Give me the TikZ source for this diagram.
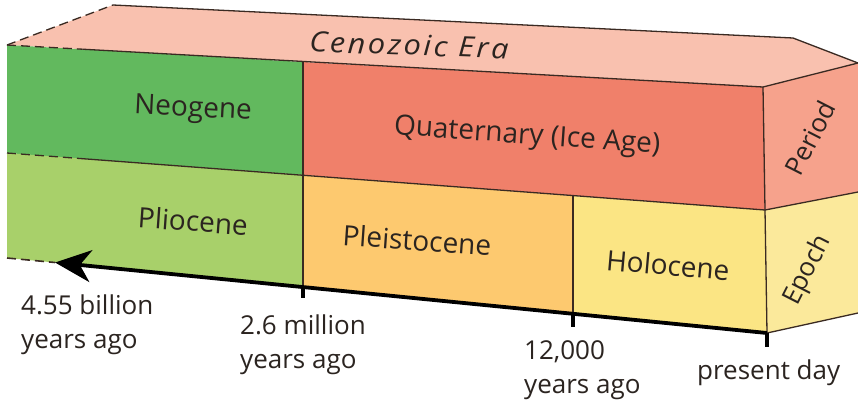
\documentclass[tikz,border=0pt]{standalone}
\usepackage{fontspec}
\setmainfont{Open Sans}
\usetikzlibrary{arrows.meta,calc}
\definecolor{topc}{HTML}{F9C1AF}
\definecolor{neoc}{HTML}{62B95E}
\definecolor{quac}{HTML}{F0806A}
\definecolor{plic}{HTML}{A8D06A}
\definecolor{pleic}{HTML}{FDC96F}
\definecolor{holc}{HTML}{FBE584}
\definecolor{perc}{HTML}{F6A28C}
\definecolor{epoc}{HTML}{FBE99B}
\definecolor{edge}{HTML}{3A2A22}
\definecolor{txt}{HTML}{2B2420}
\tikzset{
  outline/.style={draw=edge, line width=1.3pt, line join=round},
  dashedge/.style={draw=edge, line width=1.3pt, dash pattern=on 9pt off 5pt},
  axis/.style={draw=black, line width=3.8pt},
  tickmark/.style={draw=black, line width=3.8pt},
  main/.style={font=\fontsize{28}{34}\selectfont, text=txt, inner sep=0},
  side/.style={font=\fontsize{26}{30}\selectfont, text=txt, inner sep=0, rotate=63},
  lab/.style={font=\fontsize{26}{34}\selectfont, text=txt, align=left, inner sep=0, anchor=north west}
}
\begin{document}
\begin{tikzpicture}[x=1pt,y=-1pt]
\useasboundingbox (0,0) rectangle (858,408);
\fill[white] (0,0) rectangle (858,408);
% corners
\coordinate (A) at (7,45);
\coordinate (B) at (113,5);
\coordinate (C) at (793,38);
\coordinate (D) at (858,63);
\coordinate (E) at (763,87);
\coordinate (T1) at (303,62);
\coordinate (M0) at (7,153);
\coordinate (M1) at (303,175);
\coordinate (M2) at (573,196);
\coordinate (M3) at (765,210);
\coordinate (MR) at (858,192);
\coordinate (L0) at (7,258);
\coordinate (L1) at (303,286);
\coordinate (L2) at (573,313);
\coordinate (L3) at (767,333);
\coordinate (LR) at (858,313);
\coordinate (tip) at (55,262.5);
\coordinate (K1) at (303,298);
\coordinate (K2) at (573,327);
\coordinate (K3) at (767,347);
% fills
\fill[topc] (A) -- (B) -- (C) -- (D) -- (E) -- cycle;
\fill[neoc] (A) -- (T1) -- (M1) -- (M0) -- cycle;
\fill[quac] (T1) -- (E) -- (M3) -- (M1) -- cycle;
\fill[plic] (M0) -- (M1) -- (L1) -- (L0) -- cycle;
\fill[pleic] (M1) -- (M2) -- (L2) -- (L1) -- cycle;
\fill[holc] (M2) -- (M3) -- (L3) -- (L2) -- cycle;
\fill[perc] (E) -- (D) -- (MR) -- (M3) -- cycle;
\fill[epoc] (M3) -- (MR) -- (LR) -- (L3) -- cycle;
% outlines
\draw[dashedge] (A) -- (B);
\draw[dashedge] (A) -- ($(A)!0.1!(E)$);
\draw[outline] ($(A)!0.1!(E)$) -- (E);
\draw[dashedge] (M0) -- ($(M0)!0.1!(M3)$);
\draw[outline] ($(M0)!0.1!(M3)$) -- (M3);
\draw[outline] (B) -- (C) -- (D) -- (E);
\draw[outline] (E) -- (M3) -- (L3);
\draw[outline] (T1) -- (L1);
\draw[outline] (M2) -- (L2);
\draw[outline] (M3) -- (MR);
\draw[outline] (L3) -- (LR);
\draw[dashedge, line width=1.6pt] (L0) -- (tip);
% time axis
\draw[axis, -{Stealth[length=36pt, width=32pt, inset=11pt]}] (L3) -- (tip);
\draw[tickmark] (L1) -- (K1);
\draw[tickmark] (L2) -- (K2);
\draw[tickmark] (L3) -- (K3);
% labels
\node[main, rotate=-2, xscale=1.1, font=\fontsize{28}{34}\selectfont\itshape\addfontfeature{LetterSpace=8}] (era) at (409,45) {Cenozoic Era};
\node[main, rotate=-3] (neo) at (193,110) {Neogene};
\node[main, rotate=-4] (qua) at (527,137) {Quaternary (Ice Age)};
\node[main, rotate=-4] (pli) at (193,221) {Pliocene};
\node[main, rotate=-4] (plei) at (417,240) {Pleistocene};
\node[main, rotate=-5] (hol) at (668,265) {Holocene};
\node[side] (per) at (810,138) {Period};
\node[side] (epo) at (808,270) {Epoch};
\node[lab] (t1) at (21,295) {4.55 billion\\years ago};
\node[lab] (t2) at (240,315) {2.6 million\\years ago};
\node[lab] (t3) at (524,340) {12,000\\years ago};
\node[lab] (t4) at (697,360) {present day};
\end{tikzpicture}
\end{document}
